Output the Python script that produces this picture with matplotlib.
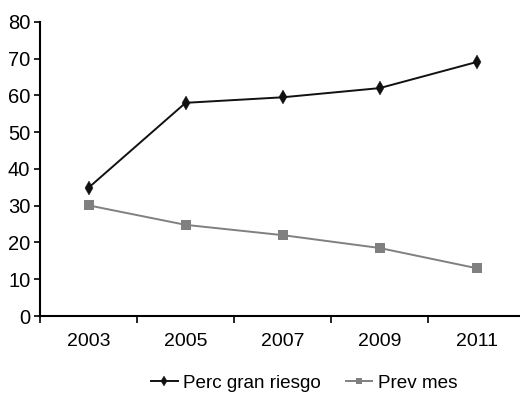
import numpy as np
import matplotlib.pyplot as plt

plt.rcParams['font.family'] = ['Liberation Sans', 'DejaVu Sans']

years = ['2003', '2005', '2007', '2009', '2011']
perc_gran_riesgo = [34.9, 58.0, 59.5, 62.0, 69.1]
prev_mes = [30.1, 24.8, 22.0, 18.5, 13.0]

fig = plt.figure(figsize=(5.2, 3.99), dpi=100)
ax = fig.add_axes([0.077, 0.208, 0.933, 0.737])

x = np.arange(len(years))
ax.plot(x, perc_gran_riesgo, color='#111111', lw=1.4, marker='d',
        markersize=7.5, markeredgewidth=0.3, label='Perc gran riesgo')
ax.plot(x, prev_mes, color='#808080', lw=1.4, marker='s',
        markersize=7, markeredgewidth=0, label='Prev mes')

ax.set_xlim(-0.5, len(years) - 0.5)
ax.set_ylim(0, 80)
ax.set_yticks(np.arange(0, 81, 10))

# category labels centered, tick marks between categories
ax.set_xticks(x)
ax.set_xticklabels(years)
ax.set_xticks(np.arange(-0.5, len(years), 1.0), minor=True)
ax.tick_params(axis='x', which='major', length=0, pad=12, labelsize=14)
ax.tick_params(axis='x', which='minor', length=5, width=1.2, direction='out')
ax.tick_params(axis='y', length=4, width=1.2, direction='out', pad=3, labelsize=14.5)

for s in ['top', 'right']:
    ax.spines[s].set_visible(False)
for s in ['left', 'bottom']:
    ax.spines[s].set_linewidth(1.5)

fig.legend(loc='center', bbox_to_anchor=(0.585, 0.04), ncol=2, frameon=False,
           fontsize=13.6, handlelength=1.4, handletextpad=0.3, columnspacing=1.3,
           markerscale=0.7)

fig.savefig('out.png', dpi=100)
